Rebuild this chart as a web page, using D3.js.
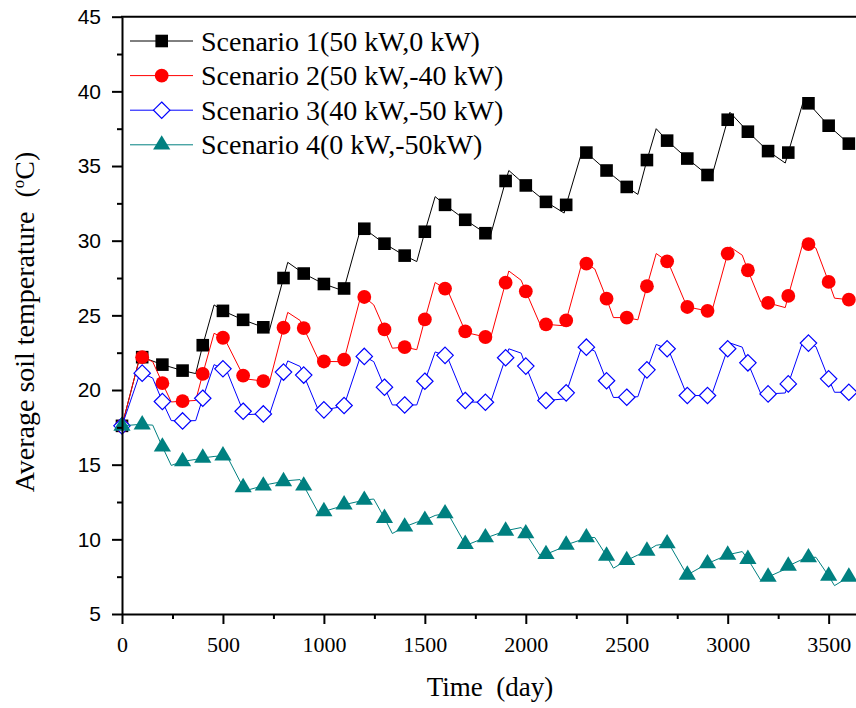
<!DOCTYPE html>
<html>
<head>
<meta charset="utf-8">
<script src="https://cdn.jsdelivr.net/npm/d3@7"></script>
<style>
  html, body { margin: 0; padding: 0; background: #fff; overflow: hidden; }
  svg { display: block; }
</style>
</head>
<body>
<svg id="chart" width="856" height="708"></svg>
<script>
// ---------------- DATA ----------------
const markerDays = [0,100,200,300,400,500,600,700,800,900,1000,1100,1200,1300,1400,1500,1600,1700,1800,1900,
  2000,2100,2200,2300,2400,2500,2600,2700,2800,2900,3000,3100,3200,3300,3400,3500,3600];

const s1Values = [17.6,22.2,21.7,21.3,23.0,25.3,24.7,24.2,27.5,27.8,27.1,26.8,30.8,29.8,29.0,30.6,32.4,31.4,30.5,34.0,
  33.7,32.6,32.4,35.9,34.7,33.6,35.4,36.7,35.5,34.4,38.1,37.3,36.0,35.9,39.2,37.7,36.5];
const s2Values = [17.6,22.2,20.46,19.25,21.08,23.5,20.97,20.6,24.17,24.15,21.91,22.03,26.23,24.06,22.87,24.73,26.79,23.93,23.55,27.19,
  26.61,24.4,24.66,28.47,26.12,24.85,26.95,28.62,25.56,25.3,29.14,28.02,25.83,26.3,29.77,27.24,26.05];
const s3Values = [17.6,21.13,19.23,17.93,19.45,21.42,18.58,18.4,21.2,21.0,18.67,18.96,22.25,20.19,19.0,20.59,22.32,19.3,19.18,22.16,
  21.6,19.3,19.81,22.87,20.62,19.52,21.35,22.76,19.63,19.63,22.76,21.82,19.74,20.41,23.14,20.75,19.85];
const s4Values = [17.6,17.68,16.2,15.22,15.45,15.6,13.48,13.59,13.88,13.59,11.87,12.32,12.63,11.42,10.84,11.29,11.73,9.68,10.12,10.57,
  10.39,9.0,9.63,10.12,8.89,8.6,9.23,9.72,7.62,8.38,8.96,8.67,7.48,8.22,8.78,7.55,7.48];

// turning points of the curves between the plotted symbols [day, value]
const s1Kinks = [[91,22.35],[365,21.1],[456,25.7],[730,24.0],[821,28.55],[1095,26.65],[1186,31.0],[1460,28.6],[1551,32.95],
  [1825,30.35],[1916,34.7],[2190,31.85],[2281,36.1],[2555,33.1],[2646,37.5],[2920,34.25],[3011,38.6],[3285,35.2],[3376,39.4]];
const s2Kinks = [[91,22.35],[152,21.9],[244,19.2],[365,19.3],[456,23.8],[517,23.2],[609,20.75],[730,20.5],[821,25.2],[882,24.66],[974,22.0],
  [1095,21.9],[1186,26.45],[1247,25.7],[1339,22.8],[1460,22.7],[1551,27.2],[1612,26.7],[1704,23.85],[1825,23.45],[1916,27.97],[1977,27.35],[2069,24.45],
  [2190,24.3],[2281,28.65],[2342,28.1],[2434,24.85],[2555,24.7],[2646,29.14],[2707,28.5],[2799,25.55],[2920,25.2],[3011,29.59],[3072,29.03],[3164,25.9],
  [3285,25.52],[3376,30.0],[3437,29.5],[3529,26.15]];
const s3Kinks = [[91,21.2],[152,20.8],[244,17.95],[365,17.95],[456,21.7],[517,21.35],[609,18.35],[730,18.35],[821,21.95],[882,21.58],[974,18.6],
  [1095,18.9],[1186,22.45],[1247,21.9],[1339,19.0],[1460,19.0],[1551,22.55],[1612,22.2],[1704,19.2],[1825,19.15],[1916,22.76],[1977,22.47],[2069,19.3],
  [2190,19.4],[2281,23.05],[2342,22.6],[2434,19.5],[2555,19.55],[2646,23.05],[2707,22.7],[2799,19.63],[2920,19.65],[3011,23.15],[3072,22.87],[3164,19.75],
  [3285,19.8],[3376,23.4],[3437,22.9],[3529,19.85]];
const s4Kinks = [[91,17.7],[152,17.65],[244,14.95],[365,15.35],[456,15.55],[517,15.65],[609,13.25],[730,13.7],[821,13.93],[882,14.0],[974,11.75],
  [1095,12.25],[1186,12.58],[1247,12.7],[1339,10.39],[1460,11.15],[1551,11.6],[1612,11.78],[1704,9.6],[1825,10.2],[1916,10.62],[1977,10.79],[2069,8.95],
  [2190,9.5],[2281,10.0],[2342,10.12],[2434,8.07],[2555,8.95],[2646,9.6],[2707,9.75],[2799,7.6],[2920,8.5],[3011,9.0],[3072,9.18],[3164,7.25],
  [3285,8.0],[3376,8.7],[3437,8.8],[3529,6.9]];

const seriesNames = ["Scenario 1(50 kW,0 kW)","Scenario 2(50 kW,-40 kW)","Scenario 3(40 kW,-50 kW)","Scenario 4(0 kW,-50kW)"];
const seriesColors = ["#000000","#ff0000","#0000ff","#008080"];
const seriesSymbols = ["square","circle","diamond","triangle"];

const xMajorTicks = [0,500,1000,1500,2000,2500,3000,3500];
const xMinorTicks = [250,750,1250,1750,2250,2750,3250];
const yMajorTicks = [5,10,15,20,25,30,35,40,45];
const yMinorTicks = [7.5,12.5,17.5,22.5,27.5,32.5,37.5,42.5];

const xTitle = "Time  (day)";
const yTitleMain = "Average soil temperature  (";

// ---------------- LAYOUT ----------------
const svg = d3.select("#chart");
const X0 = 122, Y0 = 614, YTOP = 16.7;
const x = d3.scaleLinear().domain([0, 3650]).range([X0, X0 + 3650 * 0.2019]);
const y = d3.scaleLinear().domain([5, 45]).range([Y0, YTOP]);

// ---------------- MARKS ----------------
const valuesList = [s1Values, s2Values, s3Values, s4Values];
const kinksList = [s1Kinks, s2Kinks, s3Kinks, s4Kinks];

function symbolPath(type) {
  if (type === "square") return "M-6.3,-6.3H6.3V6.3H-6.3Z";
  if (type === "circle") return d3.symbol(d3.symbolCircle, Math.PI * 6.9 * 6.9)();
  if (type === "diamond") return "M0,-8.2L8.2,0L0,8.2L-8.2,0Z";
  if (type === "triangle") return "M0,-9.6L8.6,4.8L-8.6,4.8Z";
}

const line = d3.line().x(d => x(d[0])).y(d => y(d[1]));

const plot = svg.append("g");
valuesList.forEach((vals, i) => {
  const pts = markerDays.map((d, j) => [d, vals[j]]).concat(kinksList[i]).sort((a, b) => a[0] - b[0]);
  const g = plot.append("g");
  g.append("path").attr("d", line(pts)).attr("fill", "none")
    .attr("stroke", seriesColors[i]).attr("stroke-width", 1);
  g.selectAll("path.m").data(markerDays.map((d, j) => [d, vals[j]])).join("path")
    .attr("class", "m")
    .attr("transform", d => `translate(${x(d[0])},${y(d[1])})`)
    .attr("d", symbolPath(seriesSymbols[i]))
    .attr("fill", seriesSymbols[i] === "diamond" ? "#ffffff" : seriesColors[i])
    .attr("stroke", seriesSymbols[i] === "diamond" ? seriesColors[i] : "none")
    .attr("stroke-width", 1.2);
});

// ---------------- AXES ----------------
const axisG = svg.append("g");
const xAxis = axisG.append("g").attr("transform", `translate(0,${Y0})`)
  .call(d3.axisBottom(x).tickValues(xMajorTicks).tickSize(10).tickSizeOuter(0).tickPadding(12).tickFormat(d3.format("d")));
xAxis.append("g").call(d3.axisBottom(x).tickValues(xMinorTicks).tickSize(5).tickFormat(""))
  .select(".domain").remove();
xAxis.selectAll("text").attr("font-family", "'Liberation Serif','Times New Roman',serif").attr("font-size", 22).attr("fill", "#000");

const yAxis = axisG.append("g").attr("transform", `translate(${X0},0)`)
  .call(d3.axisLeft(y).tickValues(yMajorTicks).tickSize(10).tickSizeOuter(0).tickPadding(11).tickFormat(d3.format("d")));
yAxis.append("g").call(d3.axisLeft(y).tickValues(yMinorTicks).tickSize(5).tickFormat(""))
  .select(".domain").remove();
yAxis.selectAll("text").attr("font-family", "'Liberation Sans',Arial,sans-serif").attr("font-size", 21).attr("fill", "#000");

axisG.selectAll(".domain, .tick line").attr("stroke", "#000").attr("stroke-width", 2);

// top frame line
axisG.append("line").attr("x1", X0 - 1).attr("x2", 860).attr("y1", YTOP).attr("y2", YTOP)
  .attr("stroke", "#000").attr("stroke-width", 2);

// ---------------- TITLES ----------------
svg.append("text").attr("x", 490).attr("y", 696).attr("text-anchor", "middle")
  .attr("font-family", "'Liberation Serif','Times New Roman',serif").attr("font-size", 27)
  .style("white-space", "pre").text(xTitle);

const yt = svg.append("text").attr("transform", "translate(34,322) rotate(-90)").attr("text-anchor", "middle")
  .attr("font-family", "'Liberation Serif','Times New Roman',serif").attr("font-size", 28)
  .style("white-space", "pre");
yt.append("tspan").text(yTitleMain);
yt.append("tspan").attr("font-size", 17).attr("dy", -10).text("o");
yt.append("tspan").attr("dy", 10).text("C)");

// ---------------- LEGEND ----------------
const legendRows = [41, 75.6, 110.2, 144.8];
const leg = svg.append("g");
seriesNames.forEach((name, i) => {
  const ry = legendRows[i];
  leg.append("line").attr("x1", 130).attr("x2", 193).attr("y1", ry).attr("y2", ry)
    .attr("stroke", seriesColors[i]).attr("stroke-width", 1);
  leg.append("path").attr("transform", `translate(161.7,${ry})`).attr("d", symbolPath(seriesSymbols[i]))
    .attr("fill", seriesSymbols[i] === "diamond" ? "#ffffff" : seriesColors[i])
    .attr("stroke", seriesSymbols[i] === "diamond" ? seriesColors[i] : "none").attr("stroke-width", 1.2);
  leg.append("text").attr("x", 201).attr("y", ry + 9.5)
    .attr("font-family", "'Liberation Serif','Times New Roman',serif").attr("font-size", 28)
    .attr("fill", "#000").text(name);
});
</script>
</body>
</html>
